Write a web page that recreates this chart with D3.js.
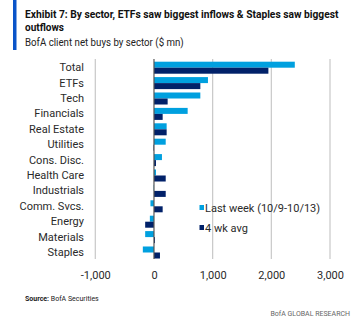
<!DOCTYPE html>
<html>
<head>
<meta charset="utf-8">
<script src="https://cdn.jsdelivr.net/npm/d3@7"></script>
<style>
  html, body { margin: 0; padding: 0; background: #fff; }
  svg text { font-family: Roboto, "Open Sans", sans-serif; }
</style>
</head>
<body>
<svg id="chart" width="362" height="326"></svg>
<script>
// data ($ mn)
const categories = ["Total", "ETFs", "Tech", "Financials", "Real Estate", "Utilities", "Cons. Disc.",
  "Health Care", "Industrials", "Comm. Svcs.", "Energy", "Materials", "Staples"];
const lastWeek = [2400, 920, 790, 574, 216, 200, 136, 34, -5, -60, -70, -150, -190];
const fourWkAvg = [1950, 790, 233, 148, 216, -8, 34, 200, 200, 148, -150, 17, 102];
const seriesNames = ["Last week (10/9-10/13)", "4 wk avg"];
const xTicks = [-1000, 0, 1000, 2000, 3000];

const colors = ["#00a0df", "#012169"];

const svg = d3.select("#chart");

// squeeze a text horizontally so it fits a given width (the original font is condensed)
const fitText = (x, y, width, size, weight, fill, str) => {
  const t = svg.append("text")
    .attr("x", 0).attr("y", 0)
    .style("font-size", size).style("font-weight", weight).attr("fill", fill)
    .text(str);
  const w = t.node().getComputedTextLength();
  t.attr("transform", `translate(${x},${y}) scale(${width / w},1)`);
  return t;
};

// header
svg.append("rect").attr("x", 13).attr("y", 0).attr("width", 3.5).attr("height", 50).attr("fill", "#0a54c9");
fitText(25, 18, 314, "11.5px", "bold", "#111",
  "Exhibit 7: By sector, ETFs saw biggest inflows & Staples saw biggest");
fitText(25, 31, 39, "11.5px", "bold", "#111", "outflows");
fitText(25, 46, 159, "11px", "normal", "#222", "BofA client net buys by sector ($ mn)");

// scales
const x = d3.scaleLinear().domain([-1000, 3000]).range([95.3, 330]);
const y = d3.scaleBand().domain(categories).range([60, 260.2]).paddingInner(0.22).paddingOuter(0.11);
const ySub = d3.scaleBand().domain([0, 1]).range([0, y.bandwidth()]);

const g = svg.append("g");

// gridlines
g.selectAll(".grid")
  .data(xTicks.filter(d => d !== 0))
  .enter().append("line")
  .attr("x1", d => x(d)).attr("x2", d => x(d))
  .attr("y1", 59).attr("y2", 259)
  .attr("stroke", "#c8c8c8").attr("stroke-width", 1.2);

// bars
const series = [lastWeek, fourWkAvg];
series.forEach((vals, si) => {
  g.selectAll(".bar" + si)
    .data(categories.map((c, i) => ({ c, v: vals[i] })))
    .enter().append("rect")
    .attr("x", d => x(Math.min(0, d.v)))
    .attr("y", d => y(d.c) + ySub(si))
    .attr("width", d => Math.abs(x(d.v) - x(0)))
    .attr("height", ySub.bandwidth())
    .attr("fill", colors[si]);
});

// zero line
g.append("line")
  .attr("x1", x(0)).attr("x2", x(0)).attr("y1", 59).attr("y2", 259)
  .attr("stroke", "#555").attr("stroke-width", 1.2);

// category labels
const yAxis = d3.axisLeft(y).tickSize(0).tickPadding(0);
g.append("g")
  .attr("transform", "translate(84,0)")
  .call(yAxis)
  .call(a => a.select(".domain").remove())
  .selectAll("text")
  .style("font-size", "11px").attr("fill", "#2a2a2a");

// x axis labels
const xAxis = d3.axisBottom(x).tickValues(xTicks).tickSize(0).tickPadding(0);
g.append("g")
  .attr("transform", "translate(0,271)")
  .call(xAxis)
  .call(a => a.select(".domain").remove())
  .selectAll("text")
  .text(d => d < 0 ? "-" + d3.format(",")(-d) : d3.format(",")(d))
  .style("font-size", "11px").attr("fill", "#2a2a2a");

// legend
const legend = svg.append("g");
seriesNames.forEach((name, i) => {
  const ly = 205 + i * 20;
  legend.append("rect").attr("x", 199.5).attr("y", ly).attr("width", 4.5).attr("height", 5).attr("fill", colors[i]);
  legend.append("text").attr("x", 205).attr("y", ly + 6.5)
    .style("font-size", "11px").attr("fill", "#2a2a2a").text(name);
});

// footer
const src = svg.append("text").attr("x", 25).attr("y", 301).style("font-size", "7px").attr("fill", "#222");
src.append("tspan").style("font-weight", "bold").text("Source: ");
src.append("tspan").text("BofA Securities");
svg.append("text").attr("x", 350).attr("y", 316).attr("text-anchor", "end")
  .style("font-size", "7px").attr("fill", "#666").text("BofA GLOBAL RESEARCH");
</script>
</body>
</html>
